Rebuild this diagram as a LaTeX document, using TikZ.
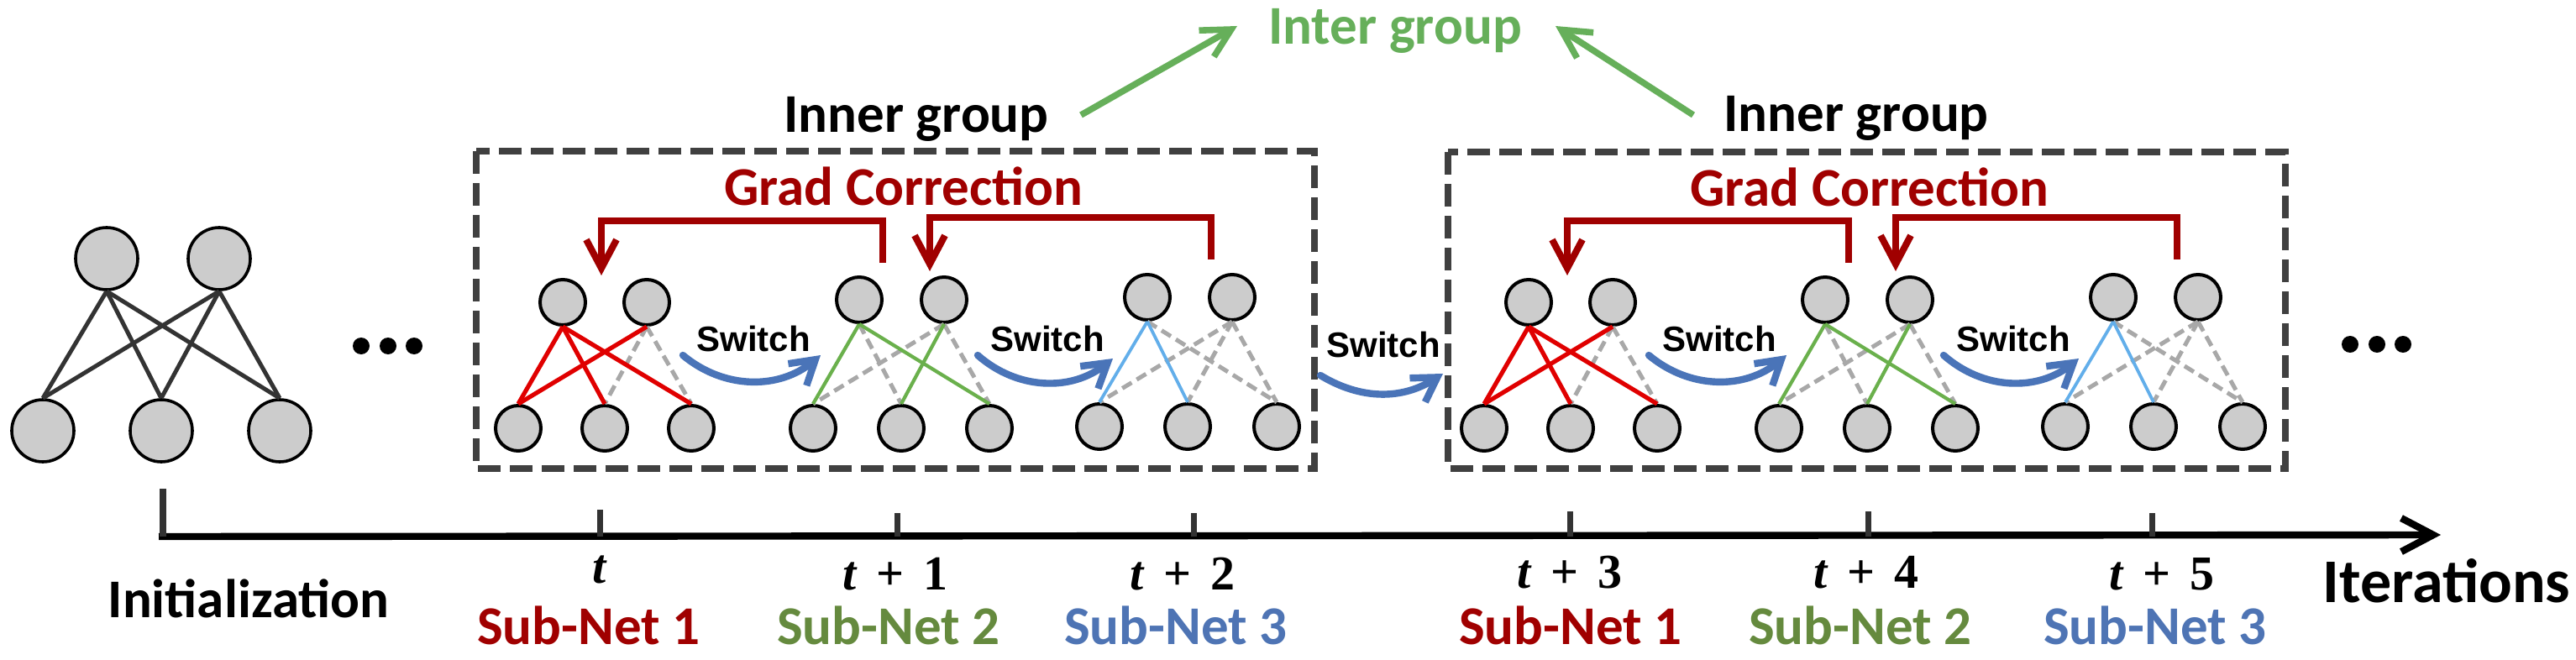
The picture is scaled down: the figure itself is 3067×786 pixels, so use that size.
\documentclass[tikz,border=0pt]{standalone}
\usepackage{fontspec}
\setmainfont{Carlito}
\newfontfamily\switchfont{Liberation Sans}
\newfontfamily\stepfont{Liberation Serif}
\usetikzlibrary{arrows.meta}
\definecolor{nodegray}{HTML}{CCCCCC}
\definecolor{initgray}{HTML}{333333}
\definecolor{offgray}{HTML}{A8A8A8}
\definecolor{boxgray}{HTML}{404040}
\definecolor{subred}{HTML}{E00000}
\definecolor{subgreen}{HTML}{6AB04C}
\definecolor{subblue}{HTML}{62AEEA}
\definecolor{gradred}{HTML}{A00000}
\definecolor{switchblue}{HTML}{4A74B8}
\definecolor{intergreen}{HTML}{66AF5A}
\definecolor{labelgreen}{HTML}{658A3E}
\definecolor{labelblue}{HTML}{4E74B4}
\newcommand{\tvar}{{\itshape t}}
\newcommand{\tplus}{\hspace{0.4em}+\hspace{0.4em}}
\begin{document}
\begin{tikzpicture}[x=0.5pt,y=-0.5pt]

	\tikzset{
	  neuron/.style={circle, draw=black, fill=nodegray, line width=2pt, minimum size=27pt, inner sep=0pt},
	  bigneuron/.style={neuron, line width=1.8pt, minimum size=37pt},
	  initedge/.style={draw=initgray, line width=2.5pt},
	  rededge/.style={draw=subred, line width=2.6pt},
	  greenedge/.style={draw=subgreen, line width=2.1pt},
	  blueedge/.style={draw=subblue, line width=1.9pt},
	  offedge/.style={draw=offgray, line width=2.5pt, dash pattern=on 6.5pt off 3.5pt},
	  groupbox/.style={draw=boxgray, line width=4pt, dash pattern=on 13.5pt off 5.5pt},
	  gradline/.style={draw=gradred, line width=4pt, -{Straight Barb[length=17pt,width=18pt]}},
	  switchline/.style={draw=switchblue, line width=4.2pt, line cap=round, -{Straight Barb[length=14pt,width=17pt]}},
	  interline/.style={draw=intergreen, line width=3.8pt, -{Straight Barb[length=17pt,width=18pt]}},
	  bigtext/.style={font=\bfseries\fontsize{32.5}{38}\selectfont, inner sep=0pt, anchor=base},
	  switchtext/.style={font=\switchfont\bfseries\fontsize{21}{25}\selectfont, inner sep=0pt, anchor=base},
	  steptext/.style={font=\stepfont\bfseries\fontsize{29}{34}\selectfont, inner sep=0pt, anchor=base},
	}
	\useasboundingbox (0,0) rectangle (3067,786);

	% initial network
	\node[bigneuron] (it1) at (127,308) {};
	\node[bigneuron] (it2) at (261,308) {};
	\node[bigneuron] (ib1) at (51,513) {};
	\node[bigneuron] (ib2) at (192,513) {};
	\node[bigneuron] (ib3) at (333,513) {};
	\draw[initedge] (it1.south)--(ib1.north);
	\draw[initedge] (it1.south)--(ib2.north);
	\draw[initedge] (it1.south)--(ib3.north);
	\draw[initedge] (it2.south)--(ib1.north);
	\draw[initedge] (it2.south)--(ib2.north);
	\draw[initedge] (it2.south)--(ib3.north);
	\fill (430,412) circle (5pt);
	\fill (462,412) circle (5pt);
	\fill (493,412) circle (5pt);

	% inner group 1
	\draw[groupbox] (567,180) rectangle (1565,558);
	\node[bigtext] (inner1) at (1091,158) {Inner group};
	\node[bigtext, text=gradred] (grad1) at (1076,245) {Grad Correction};

	\node[neuron] (g1s1t1) at (670,360) {};
	\node[neuron] (g1s1t2) at (770,360) {};
	\node[neuron] (g1s1b1) at (617,510) {};
	\node[neuron] (g1s1b2) at (720,510) {};
	\node[neuron] (g1s1b3) at (823,510) {};
	\draw[offedge] (g1s1t2.south)--(g1s1b2.north);
	\draw[offedge] (g1s1t2.south)--(g1s1b3.north);
	\draw[rededge] (g1s1t1.south)--(g1s1b1.north);
	\draw[rededge] (g1s1t1.south)--(g1s1b2.north);
	\draw[rededge] (g1s1t1.south)--(g1s1b3.north);
	\draw[rededge] (g1s1t2.south)--(g1s1b1.north);

	\node[neuron] (g1s2t1) at (1023,357) {};
	\node[neuron] (g1s2t2) at (1124,357) {};
	\node[neuron] (g1s2b1) at (968,510) {};
	\node[neuron] (g1s2b2) at (1073,510) {};
	\node[neuron] (g1s2b3) at (1178,510) {};
	\draw[offedge] (g1s2t1.south)--(g1s2b2.north);
	\draw[offedge] (g1s2t2.south)--(g1s2b1.north);
	\draw[offedge] (g1s2t2.south)--(g1s2b3.north);
	\draw[greenedge] (g1s2t1.south)--(g1s2b1.north);
	\draw[greenedge] (g1s2t1.south)--(g1s2b3.north);
	\draw[greenedge] (g1s2t2.south)--(g1s2b2.north);

	\node[neuron] (g1s3t1) at (1366,354) {};
	\node[neuron] (g1s3t2) at (1467,354) {};
	\node[neuron] (g1s3b1) at (1309,508) {};
	\node[neuron] (g1s3b2) at (1414,508) {};
	\node[neuron] (g1s3b3) at (1520,508) {};
	\draw[offedge] (g1s3t1.south)--(g1s3b3.north);
	\draw[offedge] (g1s3t2.south)--(g1s3b1.north);
	\draw[offedge] (g1s3t2.south)--(g1s3b2.north);
	\draw[offedge] (g1s3t2.south)--(g1s3b3.north);
	\draw[blueedge] (g1s3t1.south)--(g1s3b1.north);
	\draw[blueedge] (g1s3t1.south)--(g1s3b2.north);

	\coordinate (g1c1s) at (1051,313);
	\coordinate (g1c1e) at (716,328);
	\coordinate (g1c2s) at (1442,309);
	\coordinate (g1c2e) at (1107,323);
	\draw[gradline] (g1c1s)--(1051,263)--(716,263)--(g1c1e);
	\draw[gradline] (g1c2s)--(1442,259)--(1107,259)--(g1c2e);

	\node[switchtext] (g1sw1) at (897,418) {Switch};
	\node[switchtext] (g1sw2) at (1247,418) {Switch};
	\coordinate (g1a1s) at (813,423);
	\coordinate (g1a1e) at (977,423);
	\coordinate (g1a2s) at (1164,423);
	\coordinate (g1a2e) at (1325,427);
	\draw[switchline] (g1a1s) to[bend right=40] (g1a1e);
	\draw[switchline] (g1a2s) to[bend right=40] (g1a2e);

	% switch between the groups
	\node[switchtext] (midsw) at (1647,425) {Switch};
	\coordinate (mida) at (1572,447);
	\coordinate (midb) at (1718,445);
	\draw[switchline] (mida) to[bend right=32] (midb);

	% inner group 2
	\draw[groupbox] (1724,181) rectangle (2721,558);
	\node[bigtext] (inner2) at (2210,157) {Inner group};
	\node[bigtext, text=gradred] (grad2) at (2226,246) {Grad Correction};

	\node[neuron] (g2s1t1) at (1820,360) {};
	\node[neuron] (g2s1t2) at (1920,360) {};
	\node[neuron] (g2s1b1) at (1767,510) {};
	\node[neuron] (g2s1b2) at (1870,510) {};
	\node[neuron] (g2s1b3) at (1973,510) {};
	\draw[offedge] (g2s1t2.south)--(g2s1b2.north);
	\draw[offedge] (g2s1t2.south)--(g2s1b3.north);
	\draw[rededge] (g2s1t1.south)--(g2s1b1.north);
	\draw[rededge] (g2s1t1.south)--(g2s1b2.north);
	\draw[rededge] (g2s1t1.south)--(g2s1b3.north);
	\draw[rededge] (g2s1t2.south)--(g2s1b1.north);

	\node[neuron] (g2s2t1) at (2173,357) {};
	\node[neuron] (g2s2t2) at (2274,357) {};
	\node[neuron] (g2s2b1) at (2118,510) {};
	\node[neuron] (g2s2b2) at (2223,510) {};
	\node[neuron] (g2s2b3) at (2328,510) {};
	\draw[offedge] (g2s2t1.south)--(g2s2b2.north);
	\draw[offedge] (g2s2t2.south)--(g2s2b1.north);
	\draw[offedge] (g2s2t2.south)--(g2s2b3.north);
	\draw[greenedge] (g2s2t1.south)--(g2s2b1.north);
	\draw[greenedge] (g2s2t1.south)--(g2s2b3.north);
	\draw[greenedge] (g2s2t2.south)--(g2s2b2.north);

	\node[neuron] (g2s3t1) at (2516,354) {};
	\node[neuron] (g2s3t2) at (2617,354) {};
	\node[neuron] (g2s3b1) at (2459,508) {};
	\node[neuron] (g2s3b2) at (2564,508) {};
	\node[neuron] (g2s3b3) at (2670,508) {};
	\draw[offedge] (g2s3t1.south)--(g2s3b3.north);
	\draw[offedge] (g2s3t2.south)--(g2s3b1.north);
	\draw[offedge] (g2s3t2.south)--(g2s3b2.north);
	\draw[offedge] (g2s3t2.south)--(g2s3b3.north);
	\draw[blueedge] (g2s3t1.south)--(g2s3b1.north);
	\draw[blueedge] (g2s3t1.south)--(g2s3b2.north);

	\coordinate (g2c1s) at (2201,313);
	\coordinate (g2c1e) at (1866,328);
	\coordinate (g2c2s) at (2592,309);
	\coordinate (g2c2e) at (2257,323);
	\draw[gradline] (g2c1s)--(2201,263)--(1866,263)--(g2c1e);
	\draw[gradline] (g2c2s)--(2592,259)--(2257,259)--(g2c2e);

	\node[switchtext] (g2sw1) at (2047,418) {Switch};
	\node[switchtext] (g2sw2) at (2397,418) {Switch};
	\coordinate (g2a1s) at (1963,423);
	\coordinate (g2a1e) at (2127,423);
	\coordinate (g2a2s) at (2314,423);
	\coordinate (g2a2e) at (2475,427);
	\draw[switchline] (g2a1s) to[bend right=40] (g2a1e);
	\draw[switchline] (g2a2s) to[bend right=40] (g2a2e);

	\fill (2798,410) circle (5pt);
	\fill (2830,410) circle (5pt);
	\fill (2861,410) circle (5pt);

	% inter group
	\node[bigtext, text=intergreen] (inter) at (1661,53) {Inter group};
	\coordinate (inla) at (1287,137);
	\coordinate (inlb) at (1473,31);
	\coordinate (inra) at (2016,137);
	\coordinate (inrb) at (1852,31);
	\draw[interline] (inla)--(inlb);
	\draw[interline] (inra)--(inrb);

	% iterations axis
	\coordinate (axs) at (189,639);
	\coordinate (axe) at (2906,637);
	\draw[line width=4.2pt, -{Straight Barb[length=19pt,width=20pt]}] (axs)--(axe);
	\draw[color=initgray, line width=4pt] (194,582)--(194,639);
	\draw[color=initgray, line width=3.5pt] (714,607)--(714,639);
	\draw[color=initgray, line width=3.5pt] (1068,611)--(1068,639);
	\draw[color=initgray, line width=3.5pt] (1421,611)--(1421,639);
	\draw[color=initgray, line width=3.5pt] (1869,609)--(1869,639);
	\draw[color=initgray, line width=3.5pt] (2224,609)--(2224,639);
	\draw[color=initgray, line width=3.5pt] (2562,611)--(2562,639);

	\node[bigtext] (init) at (296,735) {Initialization};
	\node[bigtext, font=\bfseries\fontsize{37}{44}\selectfont] (iters) at (2913,717) {Iterations};
	\node[steptext] (st0) at (714,694) {\tvar};
	\node[steptext] (st1) at (1066,702) {\tvar\tplus1};
	\node[steptext] (st2) at (1408,702) {\tvar\tplus2};
	\node[steptext] (st3) at (1869,700) {\tvar\tplus3};
	\node[steptext] (st4) at (2222,700) {\tvar\tplus4};
	\node[steptext] (st5) at (2574,702) {\tvar\tplus5};
	\node[bigtext, text=gradred] (sn1) at (701,767) {Sub-Net 1};
	\node[bigtext, text=labelgreen] (sn2) at (1058,767) {Sub-Net 2};
	\node[bigtext, text=labelblue] (sn3) at (1400,767) {Sub-Net 3};
	\node[bigtext, text=gradred] (sn4) at (1870,767) {Sub-Net 1};
	\node[bigtext, text=labelgreen] (sn5) at (2215,767) {Sub-Net 2};
	\node[bigtext, text=labelblue] (sn6) at (2566,767) {Sub-Net 3};

\end{tikzpicture}
\end{document}
